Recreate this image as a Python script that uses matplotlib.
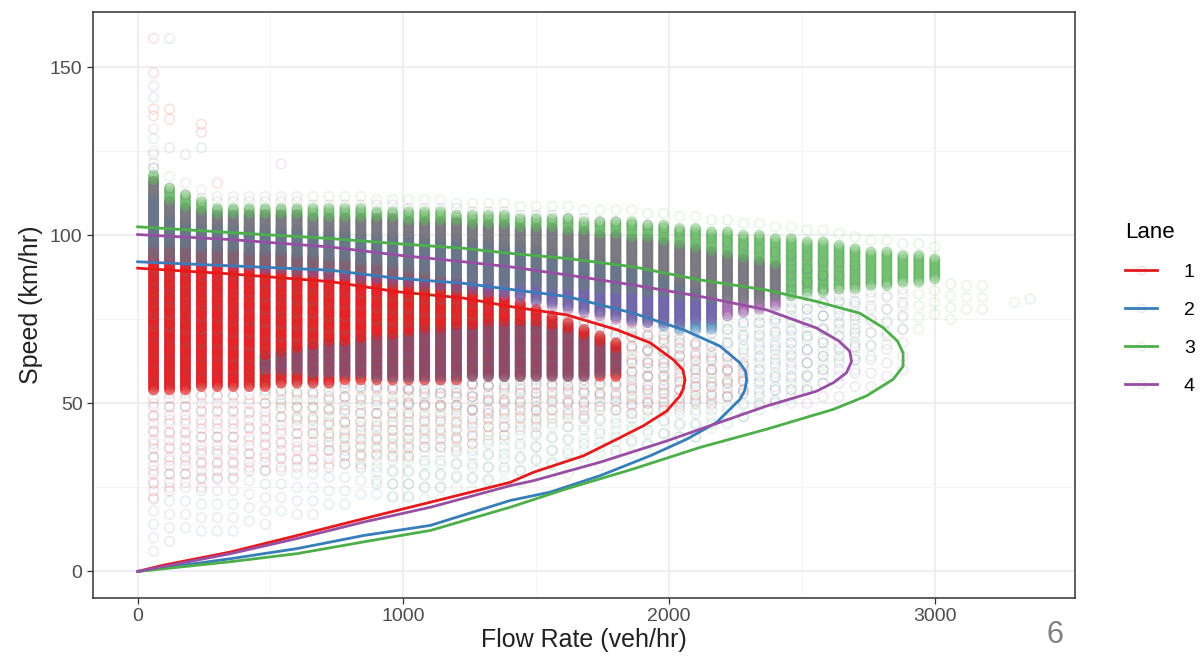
import numpy as np
import matplotlib
matplotlib.use("Agg")
import matplotlib.pyplot as plt
from matplotlib.lines import Line2D
from matplotlib.colors import to_rgba

plt.rcParams['font.family'] = ['Liberation Sans', 'DejaVu Sans']

# Set1 colours for the four lanes
lane_names = ['1', '2', '3', '4']
lane_colors = ['#E41A1C', '#377EB8', '#4DAF4A', '#984EA3']

# fitted speed-flow curves (flow veh/hr, speed km/hr)
red_q = [0, 350, 726, 976, 1227, 1402, 1615, 1803, 1929, 2016, 2052, 2060, 2054, 2041, 1991, 1903,
         1803, 1678, 1490, 1402, 1102, 851, 600, 350, 99, 0]
red_v = [90.2, 88.5, 86.2, 83.2, 81.3, 78.8, 76.3, 71.9, 68.0, 63.0, 60.0, 57.1, 54.5, 52.2, 47.7, 43.3,
         39.3, 34.4, 29.5, 26.5, 20.6, 15.7, 10.7, 5.8, 1.9, 0]
blue_q = [0, 350, 726, 976, 1227, 1402, 1615, 1866, 2054, 2192, 2267, 2288, 2292, 2286, 2267, 2179,
          2066, 1929, 1741, 1553, 1402, 1102, 851, 600, 350, 0]
blue_v = [92.1, 90.9, 89.6, 87.2, 85.7, 83.9, 81.8, 76.8, 71.9, 67.0, 62.0, 59.5, 57.1, 54.0, 51.2, 44.3,
          39.3, 34.4, 28.5, 23.6, 21.1, 13.7, 10.7, 6.8, 3.8, 0]
green_q = [0, 350, 726, 976, 1227, 1402, 1615, 1866, 2117, 2367, 2555, 2718, 2806, 2860, 2881,
           2881, 2843, 2743, 2618, 2367, 2117, 1866, 1615, 1402, 1102, 851, 600, 350, 0]
green_v = [102.5, 100.8, 99.0, 97.5, 96.1, 94.6, 93.1, 90.6, 86.7, 83.7, 80.3, 76.8, 72.5, 68.5, 65.0,
           61.0, 57.1, 52.2, 48.2, 42.3, 36.9, 30.5, 24.6, 19.1, 12.2, 8.8, 5.3, 2.9, 0]
purple_q = [0, 350, 726, 976, 1227, 1402, 1615, 1866, 2117, 2367, 2555, 2640, 2680, 2687, 2668,
            2620, 2555, 2367, 2117, 1991, 1741, 1490, 1402, 1102, 851, 600, 350, 0]
purple_v = [100.2, 98.7, 96.5, 94.1, 92.1, 90.6, 88.2, 85.2, 81.8, 77.8, 72.4, 68.5, 65.5, 62.5, 59.1,
            56.2, 53.6, 49.2, 42.3, 38.8, 32.5, 27.0, 25.5, 19.1, 14.7, 9.8, 5.3, 0]

# scatter columns: one column per 60 veh/hr of flow (1 vehicle per minute)
# per lane and column: dense band [dense_lo, dense_hi], faint band [sparse_lo, sparse_hi]
# dense_hi = 0 means the column has only faint points
red_dense_lo = [54, 54, 54, 55, 55, 55, 55, 55, 56, 56,
                56, 56, 57, 57, 57, 57, 57, 57, 57, 57,
                58, 58, 58, 58, 58, 58, 58, 58, 58, 58,
                0, 0, 0, 0, 0, 0, 0, 0]
red_dense_hi = [97, 97, 97, 96, 96, 96, 95, 95, 95, 94,
                94, 93, 93, 92, 92, 91, 90, 89, 88, 87,
                85, 84, 82, 80, 78, 76, 74, 72, 70, 68,
                0, 0, 0, 0, 0, 0, 0, 0]
red_sparse_lo = [20, 22, 25, 25, 27, 27, 28, 28, 30, 30,
                 30, 30, 32, 32, 33, 33, 34, 35, 36, 37,
                 38, 40, 40, 42, 42, 44, 45, 45, 46, 47,
                 47, 48, 48, 49, 50, 50, 52, 54]
red_sparse_hi = [101, 101, 101, 100, 100, 100, 99, 99, 99, 98,
                 98, 97, 97, 96, 96, 95, 94, 93, 92, 91,
                 90, 89, 88, 87, 86, 85, 84, 82, 80, 78,
                 76, 74, 72, 70, 68, 65, 64, 62]

blue_dense_lo = [94, 93, 93, 92, 92, 92, 91, 90, 90, 89,
                 89, 88, 88, 87, 87, 86, 86, 85, 85, 84,
                 84, 83, 83, 82, 81, 80, 79, 78, 77, 76,
                 75, 74, 73, 72, 72, 72, 0, 0, 0, 0,
                 0, 0, 0, 0, 0]
blue_dense_hi = [112, 106, 104, 103, 103, 103, 102, 102, 102, 102,
                 101, 101, 101, 100, 100, 100, 100, 99, 99, 99,
                 98, 98, 97, 97, 96, 95, 95, 94, 93, 92,
                 91, 90, 88, 86, 84, 82, 0, 0, 0, 0,
                 0, 0, 0, 0, 0]
# second, lower cluster of lane 2 points (congested side of the band)
blue_low_lo = [0, 0, 0, 0, 0, 0, 0, 60, 60, 60,
               59, 59, 59, 59, 58, 58, 58, 58, 58, 58,
               58, 58, 58, 58, 58, 58, 58, 58, 59, 60,
               0, 0, 0, 0, 0, 0, 0, 0, 0, 0,
               0, 0, 0, 0, 0]
blue_low_hi = [0, 0, 0, 0, 0, 0, 0, 64, 65, 66,
               67, 68, 68, 69, 70, 70, 71, 72, 72, 73,
               73, 74, 74, 74, 74, 73, 72, 70, 68, 66,
               0, 0, 0, 0, 0, 0, 0, 0, 0, 0,
               0, 0, 0, 0, 0]
blue_sparse_lo = [5, 8, 10, 10, 12, 12, 14, 14, 15, 16,
                  17, 18, 19, 20, 20, 21, 22, 23, 24, 25,
                  26, 27, 28, 29, 30, 31, 32, 33, 34, 35,
                  36, 37, 38, 39, 40, 42, 44, 46, 48, 50,
                  52, 54, 56, 58, 60]
blue_sparse_hi = [122, 112, 108, 107, 107, 107, 106, 106, 106, 106,
                  105, 105, 105, 104, 104, 104, 104, 103, 103, 103,
                  102, 102, 101, 101, 100, 99, 99, 98, 97, 96,
                  95, 95, 94, 93, 92, 90, 95, 95, 94, 93,
                  92, 90, 88, 85, 82]

green_dense_lo = [94, 94, 93, 93, 93, 92, 92, 92, 91, 91,
                  91, 90, 90, 90, 89, 89, 89, 88, 88, 88,
                  87, 87, 86, 86, 86, 85, 85, 85, 84, 84,
                  84, 83, 83, 82, 82, 81, 81, 81, 81, 82,
                  82, 83, 83, 84, 84, 85, 85, 86, 86, 87,
                  0, 0, 0, 0, 0, 0]
green_dense_hi = [118, 114, 112, 110, 108, 108, 108, 108, 108, 108,
                  108, 108, 108, 108, 107, 107, 107, 107, 107, 106,
                  106, 106, 106, 105, 105, 105, 105, 104, 104, 104,
                  104, 103, 103, 102, 102, 101, 101, 100, 100, 99,
                  99, 98, 98, 97, 96, 95, 95, 94, 94, 93,
                  0, 0, 0, 0, 0, 0]
green_sparse_lo = [72, 70, 68, 66, 64, 60, 56, 52, 48, 44,
                   40, 36, 32, 28, 25, 22, 21, 20, 21, 22,
                   23, 24, 25, 26, 27, 28, 29, 30, 31, 32,
                   33, 34, 36, 38, 40, 42, 44, 46, 48, 50,
                   52, 54, 56, 60, 62, 64, 66, 70, 72, 74,
                   75, 78, 78, 99, 80, 81]
green_sparse_hi = [128, 120, 117, 114, 112, 112, 112, 112, 112, 112,
                   112, 112, 112, 112, 111, 111, 111, 111, 111, 110,
                   110, 110, 110, 109, 109, 109, 109, 108, 108, 108,
                   108, 107, 107, 106, 106, 105, 105, 104, 104, 103,
                   103, 102, 102, 101, 100, 99, 99, 98, 98, 97,
                   86, 88, 88, 0, 82, 83]

purple_dense_lo = [93, 93, 92, 92, 92, 91, 91, 90, 90, 90,
                   89, 89, 88, 88, 87, 87, 86, 86, 85, 85,
                   84, 83, 82, 81, 80, 79, 78, 77, 76, 75,
                   74, 74, 74, 74, 75, 75, 76, 77, 78, 79,
                   0, 0, 0, 0, 0, 0, 0, 0]
purple_dense_hi = [116, 110, 108, 107, 106, 106, 106, 106, 106, 106,
                   105, 105, 105, 105, 105, 105, 104, 104, 104, 104,
                   103, 103, 103, 102, 102, 102, 101, 101, 100, 100,
                   99, 99, 98, 97, 96, 95, 94, 93, 92, 91,
                   0, 0, 0, 0, 0, 0, 0, 0]
purple_sparse_lo = [66, 66, 64, 64, 62, 62, 60, 60, 58, 58,
                    56, 56, 54, 54, 52, 52, 50, 50, 48, 48,
                    46, 46, 47, 47, 48, 48, 49, 49, 50, 50,
                    50, 50, 50, 50, 50, 50, 50, 50, 50, 50,
                    50, 50, 52, 52, 55, 55, 58, 60]
purple_sparse_hi = [126, 116, 112, 111, 110, 110, 110, 110, 110, 110,
                    109, 109, 109, 109, 109, 109, 108, 108, 108, 108,
                    107, 107, 107, 106, 106, 106, 105, 105, 104, 104,
                    103, 103, 102, 101, 100, 99, 98, 97, 96, 95,
                    96, 95, 94, 93, 92, 90, 88, 86]

# isolated high-speed points near zero flow
out_q = [60, 60, 60, 60, 60, 60, 60, 60, 120, 120, 120, 120, 180, 240, 240, 240, 300, 540]
out_v = [158.5, 148.3, 144.4, 141.0, 137.5, 135.5, 131.6, 128.7, 158.5, 137.5, 134.5, 126.0,
         124.0, 133.0, 130.6, 126.0, 115.5, 121.2]
out_lane = [0, 0, 3, 1, 0, 0, 3, 2, 1, 0, 0, 3, 3, 0, 0, 1, 0, 3]

lanes = [
    (red_q, red_v, red_dense_lo, red_dense_hi, red_sparse_lo, red_sparse_hi),
    (blue_q, blue_v, blue_dense_lo, blue_dense_hi, blue_sparse_lo, blue_sparse_hi),
    (green_q, green_v, green_dense_lo, green_dense_hi, green_sparse_lo, green_sparse_hi),
    (purple_q, purple_v, purple_dense_lo, purple_dense_hi, purple_sparse_lo, purple_sparse_hi),
]
sparse_step = [2.5, 4.0, 3.5, 4.0]
dense_alpha = [(0.55, 0.25), (0.36, 0.12), (0.36, 0.12), (0.36, 0.12)]

# build all scatter points (edge colour and fill colour per point)
px, py, pe, pf = [], [], [], []


def add_points(q, speeds, li, dense):
    c = lane_colors[li]
    for v in speeds:
        px.append(q); py.append(v)
        if dense:
            pe.append(to_rgba(c, dense_alpha[li][0])); pf.append(to_rgba(c, dense_alpha[li][1]))
        else:
            pe.append(to_rgba(c, 0.15)); pf.append(to_rgba(c, 0.0))


for li, (_, _, dlo, dhi, slo, shi) in enumerate(lanes):
    st = sparse_step[li]
    for k in range(len(slo)):
        q = 60 * (k + 1)
        if dhi[k] > 0:
            add_points(q, np.arange(dlo[k], dhi[k] + 0.1, 0.5), li, True)
            faint = np.concatenate([np.arange(dlo[k] - st, slo[k] - 0.1, -st),
                                    np.arange(dhi[k] + st, shi[k] + 0.1, st)])
        else:
            faint = np.arange(slo[k], shi[k] + 0.1, st)
        add_points(q, faint, li, False)

for k in range(len(blue_low_lo)):
    if blue_low_hi[k] > 0:
        add_points(60 * (k + 1), np.arange(blue_low_lo[k], blue_low_hi[k] + 0.1, 0.5), 1, True)

for q, v, li in zip(out_q, out_v, out_lane):
    add_points(q, [v], li, False)

px = np.array(px); py = np.array(py); pe = np.array(pe); pf = np.array(pf)
order = np.argsort(py, kind='stable')

fig = plt.figure(figsize=(12.03, 6.63), dpi=100)
ax = fig.add_axes([0.0773, 0.098, 0.8163, 0.884])

ax.scatter(px[order], py[order], s=48, facecolors=pf[order], edgecolors=pe[order],
           linewidths=1.0, zorder=2)

for li, lane in enumerate(lanes):
    ax.plot(lane[0], lane[1], color=lane_colors[li], lw=2.0, zorder=3)

ax.set_xlim(-168, 3528)
ax.set_ylim(-7.9, 166.4)
ax.set_xticks([0, 1000, 2000, 3000])
ax.set_xticks([500, 1500, 2500], minor=True)
ax.set_yticks([0, 50, 100, 150])
ax.set_yticks([25, 75, 125], minor=True)
ax.grid(True, which='major', color='#EBEBEB', lw=1.1, zorder=0)
ax.grid(True, which='minor', color='#F2F2F2', lw=0.6, zorder=0)
ax.set_axisbelow(True)
ax.tick_params(which='minor', length=0)
ax.tick_params(which='major', length=4, width=0.9, color='#333333',
               labelsize=14, labelcolor='#4D4D4D')
for s in ax.spines.values():
    s.set_color('#333333')
    s.set_linewidth(1.1)

ax.set_xlabel('Flow Rate (veh/hr)', fontsize=18, color='#222222', labelpad=2)
ax.set_ylabel('Speed (km/hr)', fontsize=18, color='#222222', labelpad=5)

handles = [Line2D([0], [0], color=c, lw=2.0, marker='o', markersize=6,
                  markerfacecolor='none', markeredgecolor=to_rgba(c, 0.15))
           for c in lane_colors]
leg = fig.legend(handles, lane_names, title='Lane', loc='center left',
                 bbox_to_anchor=(0.921, 0.535), frameon=False, fontsize=14,
                 title_fontsize=16, handlelength=1.6, labelspacing=1.05,
                 handletextpad=1.4)
leg._legend_box.align = 'left'

fig.text(0.877, 0.042, '6', fontsize=22, color='#808080', ha='center', va='center')

fig.savefig('out.png', dpi=100)
